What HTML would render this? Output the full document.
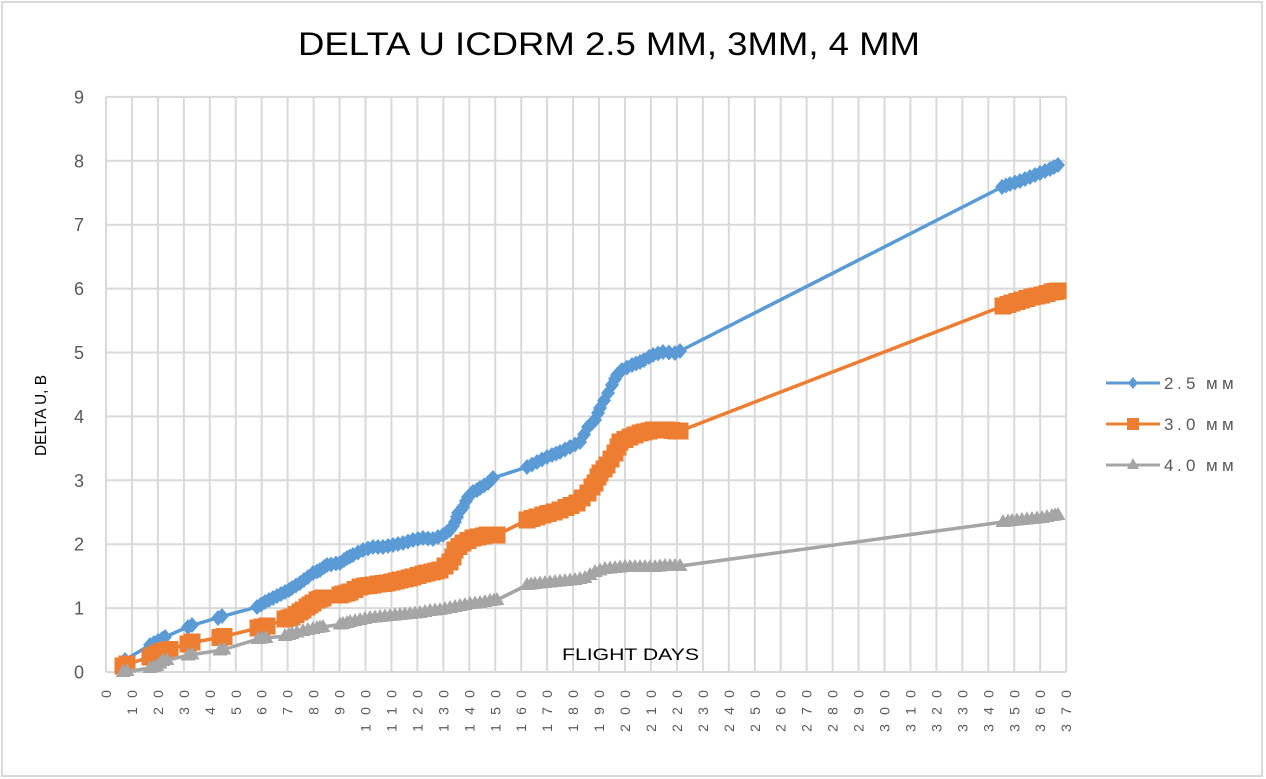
<!DOCTYPE html>
<html><head><meta charset="utf-8"><style>
html,body{margin:0;padding:0;background:#fff;}
svg{display:block;}
</style></head><body>
<svg width="1266" height="779" viewBox="0 0 1266 779" xmlns="http://www.w3.org/2000/svg">
<defs>
<marker id="md" markerUnits="userSpaceOnUse" markerWidth="16" markerHeight="16" refX="8" refY="8" overflow="visible"><path d="M8,0 L15,8 L8,16 L1,8Z" fill="#5b9bd5"/></marker>
<marker id="ms" markerUnits="userSpaceOnUse" markerWidth="17" markerHeight="17" refX="8.5" refY="8.5" overflow="visible"><rect x="0" y="0" width="17" height="17" fill="#ed7d31"/></marker>
<marker id="mt" markerUnits="userSpaceOnUse" markerWidth="16" markerHeight="16" refX="8" refY="9" overflow="visible"><path d="M8,1 L15.5,14 L0.5,14Z" fill="#a5a5a5"/></marker>
</defs>
<rect x="0" y="0" width="1266" height="779" fill="#fff"/>
<rect x="2" y="2" width="1260" height="774" fill="none" stroke="#d9d9d9" stroke-width="2"/>

<text x="298" y="55" font-family="Liberation Sans, sans-serif" font-size="32" fill="#000" textLength="622" lengthAdjust="spacingAndGlyphs">DELTA U ICDRM 2.5 MM, 3MM, 4 MM</text>

<g stroke="#d9d9d9" stroke-width="2" fill="none">
<path d="M106,672H1066.2M106,608.1H1066.2M106,544.2H1066.2M106,480.3H1066.2M106,416.4H1066.2M106,352.5H1066.2M106,288.6H1066.2M106,224.7H1066.2M106,160.8H1066.2M106,96.9H1066.2"/>
<path d="M106,96.9V672M131.95,96.9V672M157.9,96.9V672M183.85,96.9V672M209.8,96.9V672M235.75,96.9V672M261.7,96.9V672M287.65,96.9V672M313.6,96.9V672M339.55,96.9V672M365.5,96.9V672M391.45,96.9V672M417.4,96.9V672M443.35,96.9V672M469.3,96.9V672M495.25,96.9V672M521.2,96.9V672M547.15,96.9V672M573.1,96.9V672M599.05,96.9V672M625,96.9V672M650.95,96.9V672M676.9,96.9V672M702.85,96.9V672M728.8,96.9V672M754.75,96.9V672M780.7,96.9V672M806.65,96.9V672M832.6,96.9V672M858.55,96.9V672M884.5,96.9V672M910.45,96.9V672M936.4,96.9V672M962.35,96.9V672M988.3,96.9V672M1014.25,96.9V672M1040.2,96.9V672M1066.2,96.9V672"/>
</g>

<g font-family="Liberation Sans, sans-serif" font-size="18" fill="#595959" text-anchor="end">
<text x="84" y="678.5">0</text>
<text x="84" y="614.6">1</text>
<text x="84" y="550.7">2</text>
<text x="84" y="486.8">3</text>
<text x="84" y="422.9">4</text>
<text x="84" y="359">5</text>
<text x="84" y="295.1">6</text>
<text x="84" y="231.2">7</text>
<text x="84" y="167.3">8</text>
<text x="84" y="103.4">9</text>
</g>

<g font-family="Liberation Sans, sans-serif" font-size="14" fill="#595959" text-anchor="middle">
<text transform="translate(106,689) rotate(-90)" x="-5" y="5">0</text>
<text transform="translate(131.95,689) rotate(-90)" x="-22 -5" y="5">10</text>
<text transform="translate(157.9,689) rotate(-90)" x="-22 -5" y="5">20</text>
<text transform="translate(183.85,689) rotate(-90)" x="-22 -5" y="5">30</text>
<text transform="translate(209.8,689) rotate(-90)" x="-22 -5" y="5">40</text>
<text transform="translate(235.75,689) rotate(-90)" x="-22 -5" y="5">50</text>
<text transform="translate(261.7,689) rotate(-90)" x="-22 -5" y="5">60</text>
<text transform="translate(287.65,689) rotate(-90)" x="-22 -5" y="5">70</text>
<text transform="translate(313.6,689) rotate(-90)" x="-22 -5" y="5">80</text>
<text transform="translate(339.55,689) rotate(-90)" x="-22 -5" y="5">90</text>
<text transform="translate(365.5,689) rotate(-90)" x="-39 -22 -5" y="5">100</text>
<text transform="translate(391.45,689) rotate(-90)" x="-39 -22 -5" y="5">110</text>
<text transform="translate(417.4,689) rotate(-90)" x="-39 -22 -5" y="5">120</text>
<text transform="translate(443.35,689) rotate(-90)" x="-39 -22 -5" y="5">130</text>
<text transform="translate(469.3,689) rotate(-90)" x="-39 -22 -5" y="5">140</text>
<text transform="translate(495.25,689) rotate(-90)" x="-39 -22 -5" y="5">150</text>
<text transform="translate(521.2,689) rotate(-90)" x="-39 -22 -5" y="5">160</text>
<text transform="translate(547.15,689) rotate(-90)" x="-39 -22 -5" y="5">170</text>
<text transform="translate(573.1,689) rotate(-90)" x="-39 -22 -5" y="5">180</text>
<text transform="translate(599.05,689) rotate(-90)" x="-39 -22 -5" y="5">190</text>
<text transform="translate(625,689) rotate(-90)" x="-39 -22 -5" y="5">200</text>
<text transform="translate(650.95,689) rotate(-90)" x="-39 -22 -5" y="5">210</text>
<text transform="translate(676.9,689) rotate(-90)" x="-39 -22 -5" y="5">220</text>
<text transform="translate(702.85,689) rotate(-90)" x="-39 -22 -5" y="5">230</text>
<text transform="translate(728.8,689) rotate(-90)" x="-39 -22 -5" y="5">240</text>
<text transform="translate(754.75,689) rotate(-90)" x="-39 -22 -5" y="5">250</text>
<text transform="translate(780.7,689) rotate(-90)" x="-39 -22 -5" y="5">260</text>
<text transform="translate(806.65,689) rotate(-90)" x="-39 -22 -5" y="5">270</text>
<text transform="translate(832.6,689) rotate(-90)" x="-39 -22 -5" y="5">280</text>
<text transform="translate(858.55,689) rotate(-90)" x="-39 -22 -5" y="5">290</text>
<text transform="translate(884.5,689) rotate(-90)" x="-39 -22 -5" y="5">300</text>
<text transform="translate(910.45,689) rotate(-90)" x="-39 -22 -5" y="5">310</text>
<text transform="translate(936.4,689) rotate(-90)" x="-39 -22 -5" y="5">320</text>
<text transform="translate(962.35,689) rotate(-90)" x="-39 -22 -5" y="5">330</text>
<text transform="translate(988.3,689) rotate(-90)" x="-39 -22 -5" y="5">340</text>
<text transform="translate(1014.25,689) rotate(-90)" x="-39 -22 -5" y="5">350</text>
<text transform="translate(1040.2,689) rotate(-90)" x="-39 -22 -5" y="5">360</text>
<text transform="translate(1066.2,689) rotate(-90)" x="-39 -22 -5" y="5">370</text>
</g>

<text x="562" y="660" font-family="Liberation Sans, sans-serif" font-size="17" fill="#000" textLength="137" lengthAdjust="spacingAndGlyphs">FLIGHT DAYS</text>
<text transform="translate(46,456) rotate(-90)" font-family="Liberation Sans, sans-serif" font-size="16" fill="#000" textLength="81" lengthAdjust="spacingAndGlyphs">DELTA U, B</text>

<!-- 2.5 mm line -->
<polyline fill="none" stroke="#5b9bd5" stroke-width="3.5" stroke-linejoin="round"
points="125,660 150,645 165,637 190,626 220,617 257,607 273,598 285,592 300,583 313,573 327,565 340,563 353,555 373,547 383,547 413,540 423,538 433,539 443,535 450,530 455,522 458,513 463,507 468,497 473,492 488,483 493,478 527,467 580,442 588,427 595,420 600,408 617,375 622,370 640,362 653,355 663,352 675,353 680,351 1002,187 1058,165"/>
<polyline fill="none" stroke="none" marker-start="url(#md)" marker-mid="url(#md)" marker-end="url(#md)"
points="125,660 150,645 154,643 158,641 162,639 165,637 188,627 192,625 218,618 222,616 257,607 261,604.5 265,602 269,600 273,598 277,596 281,594 285,592 289,590 292,588 296,585.5 300,583 304,580 308,577 313,573 317,571.5 320,570 324,567 327,565 331,564.5 336,563.5 340,563 344,560 347,558 350,556.5 353,555 358,552.5 363,550 368,548.5 373,547 378,547 383,547 388,546 393,545 398,544 403,543 408,541.5 413,540 418,539 423,538 428,538.5 433,539 438,537 443,535 447,532 450,530 453,526 455,522 457,517 458,513 461,510 463,507 466,501 468,497 471,494 473,492 477,490 480,488 484,485.5 488,483 491,480 493,478 527,467 532,464.5 537,462 542,459.5 547,457 552,455 556,453.5 560,452 565,449.5 570,447 575,444.5 580,442 584,434.5 588,427 592,423 595,420 598,413 600,408 604,400.5 608,393 612,385 615,379 617,375 620,372 622,370 627,367.5 632,365 636,363.5 640,362 644,360 649,357 653,355 658,353.5 663,352 669,352.5 675,353 680,351 1002,187 1006,185.5 1010,184 1015,182.5 1020,181 1025,179 1030,177 1035,175 1040,173 1045,171 1050,169 1054,167 1058,165"/>

<!-- 3.0 mm line -->
<polyline fill="none" stroke="#ed7d31" stroke-width="3.5" stroke-linejoin="round"
points="125,665 150,657 170,649.5 190,643 222,637 258,628 267,626 292,617 303,610 317,600 323,598 340,595 350,592 360,587 373,585 400,580 440,570 450,562 455,550 463,543 473,538 487,535 497,535 527,520 577,503 588,493 595,483 600,473 607,465 615,453 620,442 630,437 653,430 667,430 680,431 1003,306 1058,291"/>
<polyline fill="none" stroke="none" marker-start="url(#ms)" marker-mid="url(#ms)" marker-end="url(#ms)"
points="123,666 127,664 150,657 154,655 158,653 162,651.5 166,650.5 170,649.5 188,644 192,642 220,637.5 224,636.5 258,628 262,627 267,626 285,619 289,618 292,617 296,614.5 300,612 303,610 307,607 310,605 313,603 317,600 320,599 323,598 340,595 343,594 347,593 350,592 355,589.5 360,587 365,586 369,585.5 373,585 378,584 383,583.5 387,583 392,582 396,581 400,580 405,579 409,578 413,577 418,575.5 423,574 427,573 432,572 436,571 440,570 445,566 450,562 453,557 455,550 459,546.5 463,543 468,540.5 473,538 478,537 483,536 487,535 492,535 497,535 527,520 532,518.5 537,517 543,515 548,513.5 554,512 560,510 566,507.5 571,505.5 577,503 582,498 588,493 592,487 595,483 598,477 600,473 604,469 607,465 611,459 615,453 618,447 620,442 625,439.5 630,437 635,435 640,433 644,432 649,431 653,430 658,430 662,430 667,430 672,430.5 676,431 680,431 1003,306 1008,304.5 1012,303 1017,301.5 1022,300 1027,298.5 1032,297 1037,296 1042,295 1047,293.5 1052,292 1055,291.5 1058,291"/>

<!-- 4.0 mm line -->
<polyline fill="none" stroke="#a5a5a5" stroke-width="3.5" stroke-linejoin="round"
points="125,672 150,668 157,666 163,661 190,655 222,650 258,639 266,638 285,636 303,631 323,627 343,624 360,620 380,617 420,613 440,610 480,603 497,600 527,585 585,578 595,572 605,569 625,567 655,567 680,566 1003,522 1058,515"/>
<polyline fill="none" stroke="none" marker-start="url(#mt)" marker-mid="url(#mt)" marker-end="url(#mt)"
points="123,672 127,671 150,668 154,667 157,666 160,663.5 163,661 167,660 188,655.5 192,654.5 220,650.5 224,649.5 258,639 262,638.5 266,638 285,636 289,635 292,634 297,632.5 303,631 308,630 313,629 317,628 320,627.5 323,627 340,624.5 343,624 347,623 350,622 355,621 360,620 365,619 370,618 375,617.5 380,617 385,616.5 390,616 395,615.5 400,615 405,614.5 410,614 415,613.5 420,613 425,612 430,611 435,610.5 440,610 445,609 450,608 455,607 460,606 465,605 470,604 475,603.5 480,603 485,602 490,601 494,600.5 497,600 527,585 531,584.5 535,584 540,583.5 545,583 550,582.5 555,582 560,581.5 565,581 570,580.5 575,580 580,579 585,578 590,575 595,572 600,570.5 605,569 610,568.5 615,568 620,567.5 625,567 630,567 635,567 640,567 645,567 650,567 655,567 660,566.5 665,566 670,566 675,566 680,566 1003,522 1008,521.5 1012,521 1017,520.5 1022,520 1027,519.5 1032,519 1037,518.5 1042,518 1047,517 1052,516 1055,515.5 1058,515"/>

<!-- legend -->
<g stroke-width="3">
<line x1="1106" y1="383" x2="1160" y2="383" stroke="#5b9bd5"/>
<path d="M1133,377 L1138,383 L1133,389 L1128,383Z" fill="#5b9bd5"/>
<line x1="1106" y1="424" x2="1160" y2="424" stroke="#ed7d31"/>
<rect x="1127" y="418" width="12" height="12" fill="#ed7d31"/>
<line x1="1106" y1="465" x2="1160" y2="465" stroke="#a5a5a5"/>
<path d="M1133,458 L1139,469 L1127,469Z" fill="#a5a5a5"/>
</g>
<g font-family="Liberation Sans, sans-serif" font-size="17" fill="#595959">
<text x="1164 1177 1186 1206 1222" y="389">2.5мм</text>
<text x="1164 1177 1186 1206 1222" y="430">3.0мм</text>
<text x="1164 1177 1186 1206 1222" y="471">4.0мм</text>
</g>
</svg>
</body></html>
